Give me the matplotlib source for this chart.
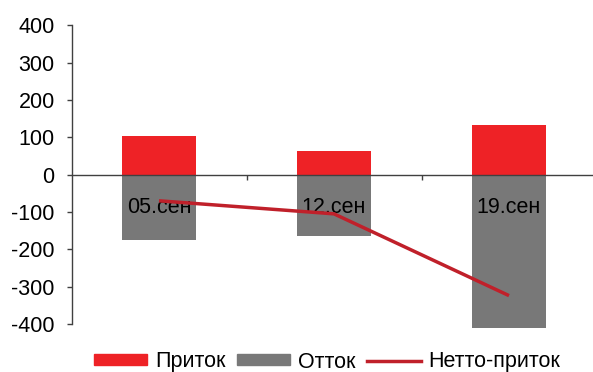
import matplotlib
matplotlib.use("Agg")
import matplotlib.pyplot as plt
from matplotlib.patches import Patch
from matplotlib.lines import Line2D
import numpy as np

plt.rcParams['font.family'] = ['Liberation Sans', 'DejaVu Sans']

categories = ["05.сен", "12.сен", "19.сен"]
inflow = [103, 64, 134]
outflow = [-174, -165, -410]
net_inflow = [-70, -105, -324]
yticks = [-400, -300, -200, -100, 0, 100, 200, 300, 400]

RED = "#EE2226"
GRAY = "#787878"
LINE_RED = "#C0202A"
FS = 15.5

fig = plt.figure(figsize=(5.93, 3.72), dpi=100)
ax = fig.add_axes([71.5 / 593, 1 - 324 / 372, 525 / 593, (324 - 25.3) / 372])

x = np.arange(len(categories))
width = 0.42
ax.bar(x, inflow, width, color=RED, zorder=1, clip_on=False)
ax.bar(x, outflow, width, color=GRAY, zorder=1, clip_on=False)
ax.plot(x, net_inflow, color=LINE_RED, lw=2.5, zorder=4, solid_capstyle='butt')

ax.set_xlim(-0.5, len(categories) - 0.5)
ax.set_ylim(-400, 400)
ax.set_yticks(yticks)
ax.set_yticklabels([str(v) for v in yticks], fontsize=FS)

for side in ("top", "right"):
    ax.spines[side].set_visible(False)
ax.spines["bottom"].set_position(("data", 0))
ax.spines["bottom"].set_color("#404040")
ax.spines["bottom"].set_linewidth(1.0)
ax.spines["left"].set_color("#404040")
ax.spines["left"].set_linewidth(1.0)

ax.tick_params(axis="y", direction="out", length=3.6, width=1, color="#404040", pad=8.5)
ax.set_xticks(x)
ax.set_xticklabels(categories, fontsize=FS)
ax.tick_params(axis="x", which="major", length=0, pad=16)
ax.set_xticks([0.5, 1.5], minor=True)
ax.tick_params(axis="x", which="minor", direction="out", length=3.6, width=1, color="#404040")
for lbl in ax.get_xticklabels():
    lbl.set_zorder(3)

handles = [Patch(color=RED), Patch(color=GRAY), Line2D([], [], color=LINE_RED, lw=2.5)]
fig.legend(handles, ["Приток", "Отток", "Нетто-приток"], loc="center",
           bbox_to_anchor=(327 / 593, 1 - 362 / 372), ncol=3, frameon=False,
           fontsize=FS, handlelength=2.5, handleheight=0.42, handletextpad=0.37,
           columnspacing=0.5, borderpad=0)

fig.savefig("out.png", dpi=100)
